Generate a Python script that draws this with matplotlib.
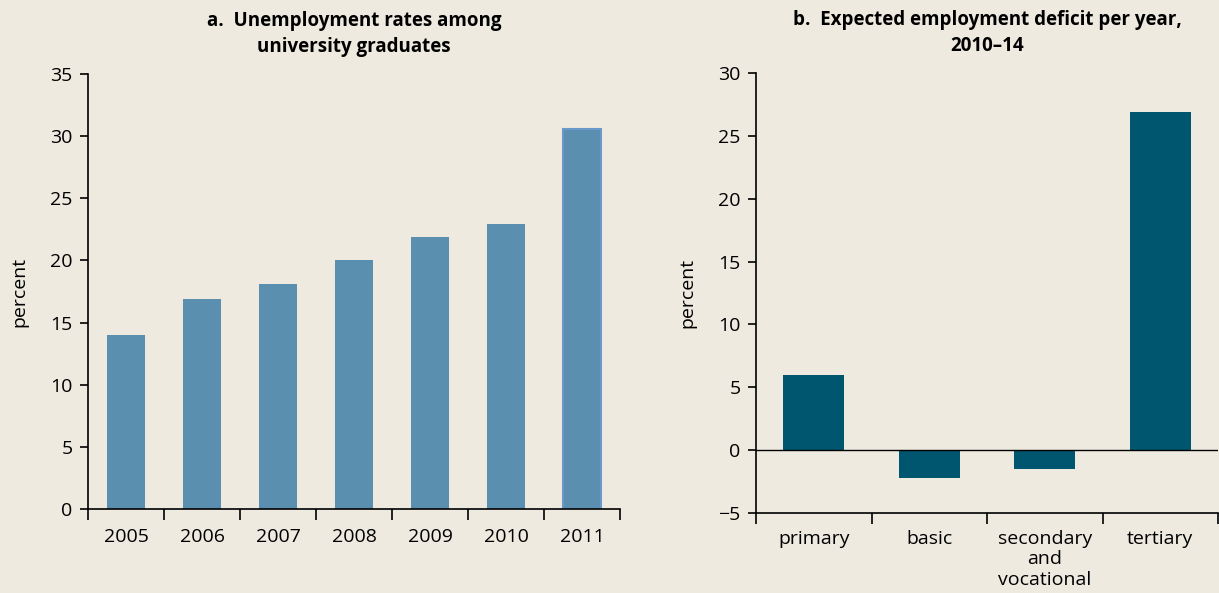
import matplotlib
matplotlib.use("Agg")
import matplotlib.pyplot as plt
import numpy as np

# panel a data
years = ["2005", "2006", "2007", "2008", "2009", "2010", "2011"]
unemployment = [14.0, 16.9, 18.1, 20.0, 21.9, 22.9, 30.6]

# panel b data
levels = ["primary", "basic", "secondary\nand\nvocational", "tertiary"]
deficit = [6.0, -2.2, -1.5, 26.9]

bg = "#EEEAE0"
plt.rcParams['font.family'] = ['Open Sans', 'DejaVu Sans']
plt.rcParams['font.size'] = 14

fig = plt.figure(figsize=(12.19, 5.93), dpi=100, facecolor=bg)
ax1 = fig.add_axes([0.0722, 0.1417, 0.4364, 0.7335])
ax2 = fig.add_axes([0.6202, 0.1349, 0.3790, 0.7420])


def style_axis(ax, n):
    ax.set_facecolor(bg)
    for s in ["top", "right"]:
        ax.spines[s].set_visible(False)
    for s in ["left", "bottom"]:
        ax.spines[s].set_linewidth(1.2)
    ax.set_xlim(-0.5, n - 0.5)
    # boundary ticks as marks, labels on minor ticks at the centres
    ax.set_xticks(np.arange(n + 1) - 0.5)
    ax.set_xticklabels([])
    ax.tick_params(axis="x", which="major", length=8, width=1.2, direction="out")
    ax.tick_params(axis="x", which="minor", length=0, pad=14)
    ax.tick_params(axis="y", length=6, width=1.2, pad=5)
    ax.set_ylabel("percent", labelpad=16)


x1 = np.arange(len(years))
ax1.bar(x1[:-1], unemployment[:-1], width=0.5, color="#5B8FB0")
ax1.bar(x1[-1], unemployment[-1], width=0.5, color="#5B8FB0",
        edgecolor="#6B9ACA", linewidth=1.5)
style_axis(ax1, len(years))
ax1.set_xticks(x1, minor=True)
ax1.set_xticklabels(years, minor=True)
ax1.set_ylim(0, 35)
ax1.set_yticks(np.arange(0, 36, 5))
ax1.set_title("a.  Unemployment rates among\nuniversity graduates",
              fontweight="bold", fontsize=13.5, pad=16, linespacing=1.4)

x2 = np.arange(len(levels))
ax2.bar(x2, deficit, width=0.53, color="#00566F")
style_axis(ax2, len(levels))
ax2.set_xticks(x2, minor=True)
ax2.set_xticklabels(levels, minor=True, linespacing=1.2, va="top")
ax2.tick_params(axis="x", which="minor", pad=12)
ax2.axhline(0, color="black", linewidth=1.0)
ax2.set_ylim(-5, 30)
ax2.set_yticks(np.arange(-5, 31, 5))
ax2.set_yticklabels([("\u2212" + str(-v)) if v < 0 else str(v)
                     for v in np.arange(-5, 31, 5)])
ax2.set_title("b.  Expected employment deficit per year,\n2010\u201314",
              fontweight="bold", fontsize=13.5, pad=16, linespacing=1.4)

fig.savefig("out.png", dpi=100, facecolor=bg)
